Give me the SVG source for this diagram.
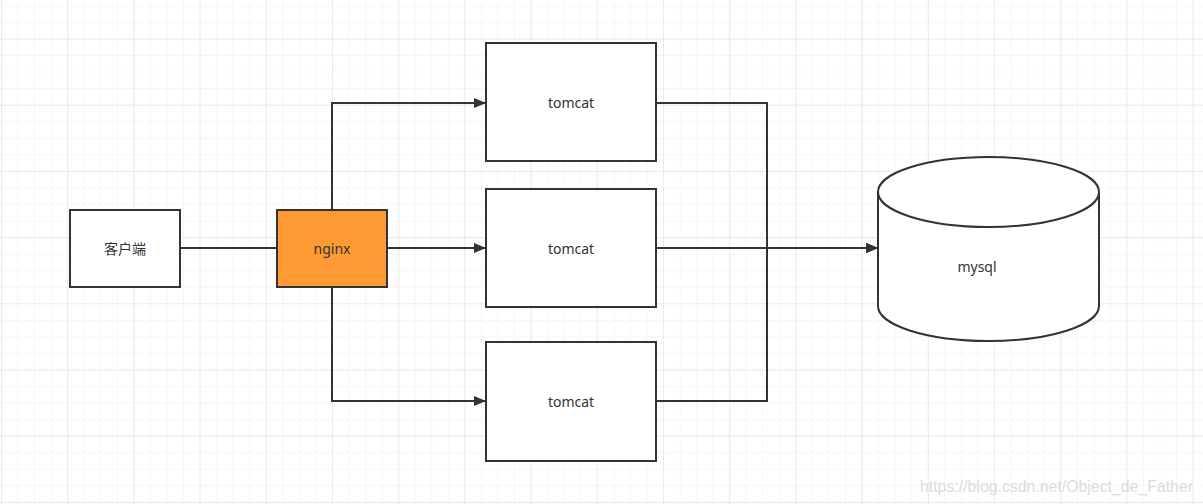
<svg xmlns="http://www.w3.org/2000/svg" width="1203" height="504" viewBox="0 0 1203 504">
  <defs>
    <pattern id="minor" x="1" y="5.4" width="16.55" height="16.55" patternUnits="userSpaceOnUse">
      <path d="M0 0H16.55M0 0V16.55" fill="none" stroke="#eeeeee" stroke-width="1"/>
    </pattern>
    <pattern id="major" x="1" y="38.5" width="66.2" height="66.2" patternUnits="userSpaceOnUse">
      <path d="M0 0H66.2M0 0V66.2" fill="none" stroke="#e0e0e0" stroke-width="1"/>
    </pattern>
    <marker id="arr" viewBox="0 0 12 10" refX="12" refY="5" markerWidth="12" markerHeight="10" markerUnits="userSpaceOnUse" orient="auto">
      <path d="M0 0L12 5L0 10Z" fill="#333333"/>
    </marker>
    <style>
      .box { fill: #ffffff; stroke: #333333; stroke-width: 2; }
      .lbl { font-family: "Noto Sans", "Noto Sans CJK SC", sans-serif; font-size: 14px; fill: #333333; text-anchor: middle; dominant-baseline: central; }
      .edge { fill: none; stroke: #333333; stroke-width: 2; }
    </style>
  </defs>
  <rect width="1203" height="504" fill="#ffffff"/>
  <rect width="1203" height="504" fill="url(#minor)"/>
  <rect width="1203" height="504" fill="url(#major)"/>

  <g id="connectors">
    <path class="edge" d="M180 248H277"/>
    <path class="edge" d="M332 210V103H486" marker-end="url(#arr)"/>
    <path class="edge" d="M387 248H486" marker-end="url(#arr)"/>
    <path class="edge" d="M332 287V401H486" marker-end="url(#arr)"/>
    <path class="edge" d="M656 103H767V248H878" marker-end="url(#arr)"/>
    <path class="edge" d="M656 248H878" marker-end="url(#arr)"/>
    <path class="edge" d="M656 401H767V248H878" marker-end="url(#arr)"/>
  </g>

  <g id="client">
    <rect class="box" x="70" y="210" width="110" height="77"/>
    <text class="lbl" x="125" y="248.5">客户端</text>
  </g>
  <g id="nginx">
    <rect class="box" x="277" y="210" width="110" height="77" style="fill:#fd9a34"/>
    <text class="lbl" x="332" y="248.5">nginx</text>
  </g>
  <g id="tomcat1">
    <rect class="box" x="486" y="43" width="170" height="118"/>
    <text class="lbl" x="571" y="102.5">tomcat</text>
  </g>
  <g id="tomcat2">
    <rect class="box" x="486" y="189" width="170" height="118"/>
    <text class="lbl" x="571" y="248.5">tomcat</text>
  </g>
  <g id="tomcat3">
    <rect class="box" x="486" y="342" width="170" height="119"/>
    <text class="lbl" x="571" y="401.5">tomcat</text>
  </g>
  <g id="mysql">
    <path class="box" d="M878 192A110.5 35 0 0 1 1099 192V306A110.5 35 0 0 1 878 306Z"/>
    <path class="edge" d="M878 192A110.5 35 0 0 0 1099 192"/>
    <text class="lbl" x="977" y="266.5">mysql</text>
  </g>

  <text x="1193" y="492" text-anchor="end" font-family="Liberation Sans, Arial, sans-serif" font-size="16" fill="#dcdcdc" textLength="273" lengthAdjust="spacingAndGlyphs">https://blog.csdn.net/Object_de_Father</text>
</svg>
